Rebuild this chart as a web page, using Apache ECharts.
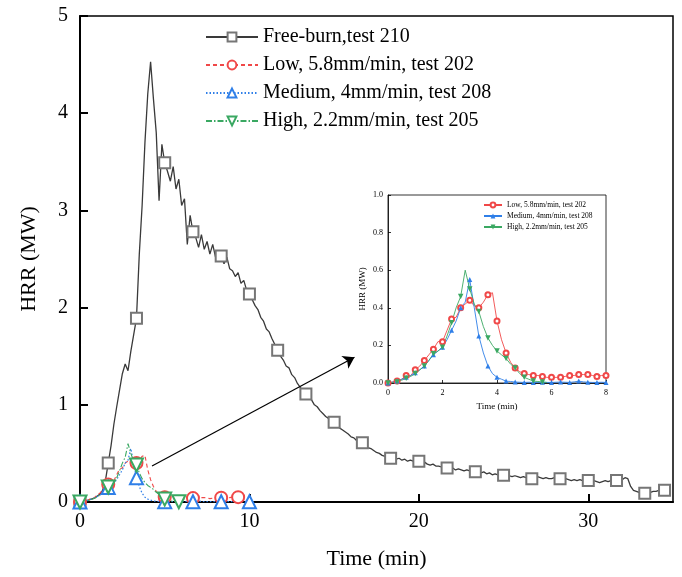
<!DOCTYPE html>
<html><head><meta charset="utf-8">
<script src="https://cdn.jsdelivr.net/npm/echarts@6/dist/echarts.min.js"></script>
<style>html,body{margin:0;padding:0;background:#fff}#c{width:682px;height:577px}</style>
</head><body><div id="c"></div>
<script>
// sampling interval of every recorded series, in minutes (10 s)
const STEP_MIN = 1 / 6;

const seriesNames = ['Free-burn,test 210', 'Low, 5.8mm/min, test 202', 'Medium, 4mm/min, test 208', 'High, 2.2mm/min, test 205'];

// HRR (MW), one value every 10 s
const freeBurn = [
  0, 0.01, 0.01, 0.02, 0.03, 0.04, 0.06, 0.08, 0.12, 0.22,
  0.40, 0.58, 0.80, 0.98, 1.15, 1.32, 1.42, 1.35, 1.55, 1.72,
  1.89, 2.55, 3.05, 3.70, 4.20, 4.53, 4.15, 3.80, 3.10, 3.68,
  3.49, 3.40, 3.30, 3.45, 3.22, 3.32, 3.05, 3.12, 2.65, 2.95,
  2.78, 2.72, 2.62, 2.75, 2.60, 2.68, 2.55, 2.65, 2.52, 2.58,
  2.53, 2.45, 2.52, 2.40, 2.38, 2.32, 2.36, 2.25, 2.28, 2.18,
  2.14, 2.08, 2.02, 1.98, 1.90, 1.86, 1.78, 1.75, 1.68, 1.62,
  1.56, 1.50, 1.46, 1.40, 1.38, 1.31, 1.28, 1.22, 1.18, 1.14,
  1.11, 1.07, 1.05, 1.00, 0.98, 0.94, 0.91, 0.88, 0.86, 0.84,
  0.82, 0.79, 0.76, 0.74, 0.72, 0.70, 0.67, 0.66, 0.63, 0.62,
  0.61, 0.58, 0.56, 0.55, 0.53, 0.51, 0.50, 0.48, 0.47, 0.46,
  0.45, 0.46, 0.44, 0.45, 0.43, 0.44, 0.42, 0.43, 0.42, 0.41,
  0.42, 0.40, 0.41, 0.39, 0.38, 0.39, 0.37, 0.37, 0.36, 0.36,
  0.35, 0.34, 0.35, 0.33, 0.34, 0.33, 0.32, 0.33, 0.32, 0.31,
  0.31, 0.32, 0.30, 0.31, 0.29, 0.30, 0.28, 0.29, 0.28, 0.28,
  0.275, 0.28, 0.27, 0.26, 0.27, 0.26, 0.25, 0.26, 0.25, 0.24,
  0.24, 0.25, 0.26, 0.25, 0.24, 0.25, 0.24, 0.24, 0.25, 0.24,
  0.24, 0.23, 0.24, 0.23, 0.22, 0.23, 0.22, 0.23, 0.22, 0.22,
  0.22, 0.21, 0.22, 0.21, 0.20, 0.21, 0.22, 0.21, 0.22, 0.23,
  0.22, 0.21, 0.23, 0.25, 0.24, 0.16, 0.12, 0.11, 0.10, 0.10,
  0.09, 0.10, 0.10, 0.11, 0.11, 0.12, 0.12, 0.12
];
const lowRate = [
  0, 0.005, 0.01, 0.02, 0.04, 0.04, 0.07, 0.09, 0.12, 0.15,
  0.18, 0.22, 0.22, 0.28, 0.34, 0.35, 0.40, 0.42, 0.44, 0.41,
  0.40, 0.43, 0.47, 0.48, 0.33, 0.23, 0.16, 0.11, 0.08, 0.06,
  0.05, 0.045, 0.04, 0.04, 0.035, 0.03, 0.03, 0.03, 0.03, 0.035,
  0.04, 0.04, 0.045, 0.045, 0.045, 0.04, 0.035, 0.04, 0.04, 0.04,
  0.045, 0.05, 0.05, 0.045, 0.05, 0.05, 0.05
];
const mediumRate = [
  0, 0.005, 0.01, 0.02, 0.03, 0.04, 0.055, 0.07, 0.09, 0.12,
  0.15, 0.17, 0.19, 0.23, 0.28, 0.33, 0.40, 0.43, 0.55, 0.40,
  0.25, 0.16, 0.09, 0.05, 0.03, 0.02, 0.01, 0.008, 0.005, 0.004,
  0.003, 0.004, 0.003, 0.003, 0.004, 0.003, 0.003, 0.004, 0.005, 0.004,
  0.003, 0.006, 0.01, 0.006, 0.004, 0.003, 0.003, 0.004, 0.003, 0.003,
  0.003, 0.003, 0.004, 0.003, 0.003, 0.003, 0.004, 0.003, 0.003, 0.003,
  0.003
];
const highRate = [
  0, 0.003, 0.005, 0.015, 0.025, 0.035, 0.05, 0.07, 0.09, 0.12,
  0.155, 0.17, 0.19, 0.25, 0.32, 0.40, 0.46, 0.60, 0.50, 0.42,
  0.38, 0.30, 0.24, 0.20, 0.17, 0.15, 0.13, 0.10, 0.08, 0.05,
  0.03, 0.02, 0.01, 0.008, 0.005, 0.003
];

// annotation arrow (data coordinates of the main plot)
const arrowFrom = [4.25, 0.37];
const arrowTo = [16.2, 1.49];

const FONT = '"Liberation Serif", "Times New Roman", serif';
const RED = '#f04848', BLUE = '#2f7fe8', GREEN = '#3aa862', GRAY = '#767676';

function toXY(arr) { return arr.map((v, i) => [i * STEP_MIN, v]); }
function marks(every, size, len) {
  return function (v, p) { return (p.dataIndex % every === 0 || p.dataIndex === len - 1) ? size : 0; };
}

function axisBase(fs, lw, tickLen) {
  return {
    axisLine: { show: true, onZero: false, lineStyle: { color: '#000', width: lw } },
    axisTick: { show: true, inside: true, length: tickLen, lineStyle: { color: '#000', width: lw } },
    splitLine: { show: false },
    nameTextStyle: { fontFamily: FONT, color: '#000' },
    axisLabel: { fontFamily: FONT, fontSize: fs, color: '#000' }
  };
}

const xMain = Object.assign(axisBase(20, 2, 8), {
  type: 'value', gridIndex: 0, min: 0, max: 35, interval: 10,
  name: 'Time (min)', nameLocation: 'middle', nameGap: 46
});
xMain.nameTextStyle.fontSize = 22;
xMain.axisLabel.margin = 10; xMain.axisLabel.showMaxLabel = false;

const yMain = Object.assign(axisBase(20, 2, 8), {
  type: 'value', gridIndex: 0, min: 0, max: 5, interval: 1,
  name: 'HRR (MW)', nameLocation: 'middle', nameGap: 40, nameRotate: 90
});
yMain.nameTextStyle.fontSize = 22;
yMain.axisLabel.margin = 12;

const xIn = Object.assign(axisBase(8, 0.8, 3), {
  type: 'value', gridIndex: 1, min: 0, max: 8, interval: 2,
  name: 'Time (min)', nameLocation: 'middle', nameGap: 19
});
xIn.nameTextStyle.fontSize = 9;
xIn.axisLabel.margin = 6;

const yIn = Object.assign(axisBase(8, 0.8, 3), {
  type: 'value', gridIndex: 1, min: 0, max: 1, interval: 0.2,
  name: 'HRR (MW)', nameLocation: 'middle', nameGap: 21, nameRotate: 90
});
yIn.nameTextStyle.fontSize = 9;
yIn.axisLabel.margin = 5;
yIn.axisLabel.formatter = v => v.toFixed(1);

const insetNames = seriesNames.slice(1).map(n => n + ' ');

const chart = echarts.init(document.getElementById('c'), null, { renderer: 'canvas' });
chart.setOption({
  animation: false,
  backgroundColor: '#fff',
  grid: [
    { left: 80, top: 16, width: 593, height: 486, show: true, borderColor: '#000', borderWidth: 1.5, backgroundColor: 'transparent', containLabel: false },
    { left: 388, top: 195, width: 218, height: 188, show: true, borderColor: '#000', borderWidth: 0.8, backgroundColor: '#fff', containLabel: false }
  ],
  xAxis: [xMain, xIn],
  yAxis: [yMain, yIn],
  legend: [
    { data: seriesNames, left: 205, top: 27, padding: 0, orient: 'vertical', itemWidth: 52, itemHeight: 11, itemGap: 8, selectedMode: false,
      textStyle: { fontFamily: FONT, fontSize: 20, color: '#000' } },
    { data: insetNames, left: 483, top: 201, padding: 0, orient: 'vertical', itemWidth: 18, itemHeight: 6, itemGap: 3, selectedMode: false,
      textStyle: { fontFamily: FONT, fontSize: 7.5, color: '#000' } }
  ],
  series: [
    { name: seriesNames[0], type: 'line', xAxisIndex: 0, yAxisIndex: 0, data: toXY(freeBurn), z: 3,
      symbol: 'emptyRect', symbolSize: marks(10, 11, freeBurn.length), showAllSymbol: true,
      itemStyle: { color: GRAY, borderWidth: 1.3 }, lineStyle: { color: '#3a3a3a', width: 1.3 },
      markLine: { silent: true, symbol: ['none', 'arrow'], symbolSize: 11, label: { show: false },
        lineStyle: { color: '#000', width: 1.2, type: 'solid' },
        data: [[{ coord: arrowFrom }, { coord: arrowTo }]] } },
    { name: seriesNames[1], type: 'line', xAxisIndex: 0, yAxisIndex: 0, data: toXY(lowRate), z: 4,
      symbol: 'emptyCircle', symbolSize: marks(10, 12, lowRate.length), showAllSymbol: true,
      itemStyle: { color: RED, borderWidth: 1.2 }, lineStyle: { color: RED, width: 1.1, type: [4, 3] } },
    { name: seriesNames[2], type: 'line', xAxisIndex: 0, yAxisIndex: 0, data: toXY(mediumRate), z: 4,
      symbol: 'emptyTriangle', symbolSize: marks(10, 13, mediumRate.length), showAllSymbol: true,
      itemStyle: { color: BLUE, borderWidth: 1.3 }, lineStyle: { color: BLUE, width: 1.2, type: [1.5, 2] } },
    { name: seriesNames[3], type: 'line', xAxisIndex: 0, yAxisIndex: 0, data: toXY(highRate), z: 4,
      symbol: 'emptyTriangle', symbolRotate: 180, symbolSize: marks(10, 13, highRate.length), showAllSymbol: true,
      itemStyle: { color: GREEN, borderWidth: 1.2 }, lineStyle: { color: GREEN, width: 1.1, type: [6, 2, 1.5, 2] } },

    { name: insetNames[0], type: 'line', xAxisIndex: 1, yAxisIndex: 1, data: toXY(lowRate), z: 5,
      symbol: 'emptyCircle', symbolSize: marks(2, 5, 1e9), showAllSymbol: true,
      itemStyle: { color: RED, borderWidth: 0.9 }, lineStyle: { color: RED, width: 0.9 } },
    { name: insetNames[1], type: 'line', xAxisIndex: 1, yAxisIndex: 1, data: toXY(mediumRate), z: 5,
      symbol: 'triangle', symbolSize: marks(2, 5, 1e9), showAllSymbol: true,
      itemStyle: { color: BLUE }, lineStyle: { color: BLUE, width: 0.9 } },
    { name: insetNames[2], type: 'line', xAxisIndex: 1, yAxisIndex: 1, data: toXY(highRate), z: 5,
      symbol: 'triangle', symbolRotate: 180, symbolSize: marks(2, 5.5, 1e9), showAllSymbol: true,
      itemStyle: { color: GREEN }, lineStyle: { color: GREEN, width: 0.9 } }
  ]
});
</script></body></html>
